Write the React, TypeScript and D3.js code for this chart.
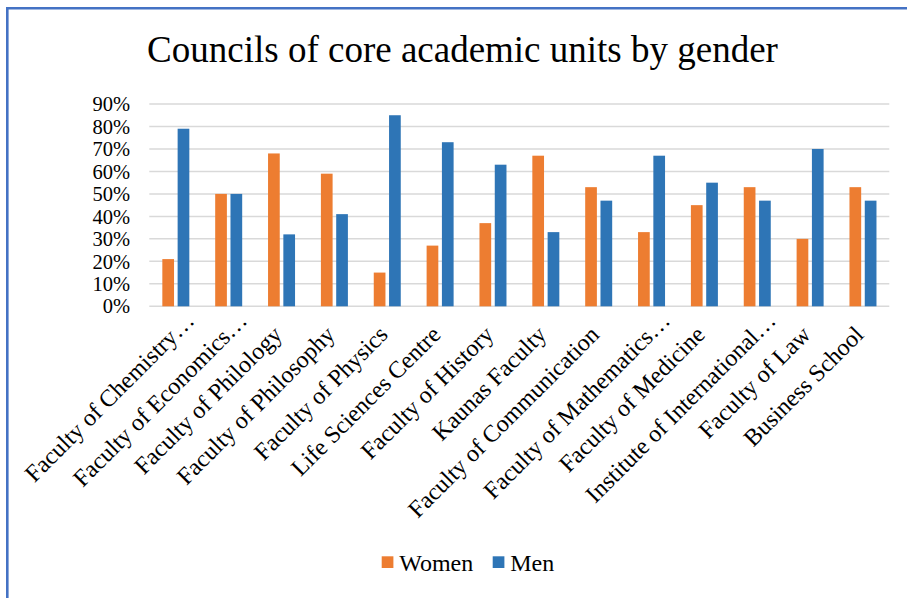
import React from "react";
import * as d3 from "d3";

const categories = [
  "Faculty of Chemistry…",
  "Faculty of Economics…",
  "Faculty of Philology",
  "Faculty of Philosophy",
  "Faculty of Physics",
  "Life Sciences Centre",
  "Faculty of History",
  "Kaunas Faculty",
  "Faculty of Communication",
  "Faculty of Mathematics…",
  "Faculty of Medicine",
  "Institute of International…",
  "Faculty of Law",
  "Business School",
];
const women = [0.21, 0.5, 0.68, 0.59, 0.15, 0.27, 0.37, 0.67, 0.53, 0.33, 0.45, 0.53, 0.3, 0.53];
const men = [0.79, 0.5, 0.32, 0.41, 0.85, 0.73, 0.63, 0.33, 0.47, 0.67, 0.55, 0.47, 0.7, 0.47];
const yTicks = [0, 0.1, 0.2, 0.3, 0.4, 0.5, 0.6, 0.7, 0.8, 0.9];
const seriesNames = ["Women", "Men"];
const colors = ["#ED7D31", "#2E75B6"];
const title = "Councils of core academic units by gender";

const FONT = "'Liberation Serif', 'Times New Roman', serif";

export default function App() {
  const W = 907;
  const H = 598;
  const x = d3.scaleBand<string>().domain(categories).range([149.3, 889.3]);
  const y = d3.scaleLinear().domain([0, 0.9]).range([306.3, 104]);
  const barW = 11.7;
  const fmt = d3.format(".0%");

  return (
    <div style={{ position: "absolute", left: 0, top: 0 }}>
      <svg width={W} height={H} style={{ display: "block", background: "#fff" }}>
        {/* border */}
        <line x1={7} x2={W} y1={8.3} y2={8.3} stroke="#4472C4" strokeWidth={2.6} />
        <line x1={7.3} x2={7.3} y1={7} y2={H} stroke="#4472C4" strokeWidth={2.6} />

        <text x={462.5} y={62} textAnchor="middle" fontFamily={FONT} fontSize={37} fill="#000">
          {title}
        </text>

        {/* gridlines */}
        {yTicks.map((t) => (
          <line key={"g" + t} x1={149.3} x2={889.3} y1={y(t)} y2={y(t)} stroke="#d9d9d9" strokeWidth={1.5} />
        ))}
        {yTicks.map((t) => (
          <text
            key={"t" + t}
            x={130}
            y={y(t)}
            dy="0.35em"
            textAnchor="end"
            fontFamily={FONT}
            fontSize={20.5}
            fill="#000"
          >
            {fmt(t)}
          </text>
        ))}

        {/* bars */}
        {categories.map((c, i) => {
          const cx = (x(c) as number) + x.bandwidth() / 2;
          return (
            <g key={"b" + i}>
              <rect x={cx - 13.4} y={y(women[i])} width={barW} height={y(0) - y(women[i])} fill={colors[0]} />
              <rect x={cx + 1.9} y={y(men[i])} width={barW} height={y(0) - y(men[i])} fill={colors[1]} />
            </g>
          );
        })}

        {/* category labels */}
        {categories.map((c, i) => {
          const cx = (x(c) as number) + x.bandwidth() / 2;
          const trunc = c.endsWith("…");
          const px = trunc ? cx + 20 : cx + 2;
          const py = trunc ? 322 : 336;
          return (
            <text
              key={"l" + i}
              transform={`translate(${px},${py}) rotate(-45)`}
              textAnchor="end"
              fontFamily={FONT}
              fontSize={24}
              fill="#000"
            >
              {c}
            </text>
          );
        })}

        {/* legend */}
        {seriesNames.map((s, i) => {
          const lx = i === 0 ? 381.7 : 492.7;
          return (
            <g key={"lg" + i}>
              <rect x={lx} y={556.3} width={11.7} height={11.7} fill={colors[i]} />
              <text x={lx + 17.5} y={570.5} fontFamily={FONT} fontSize={24} fill="#000">
                {s}
              </text>
            </g>
          );
        })}
      </svg>
    </div>
  );
}
